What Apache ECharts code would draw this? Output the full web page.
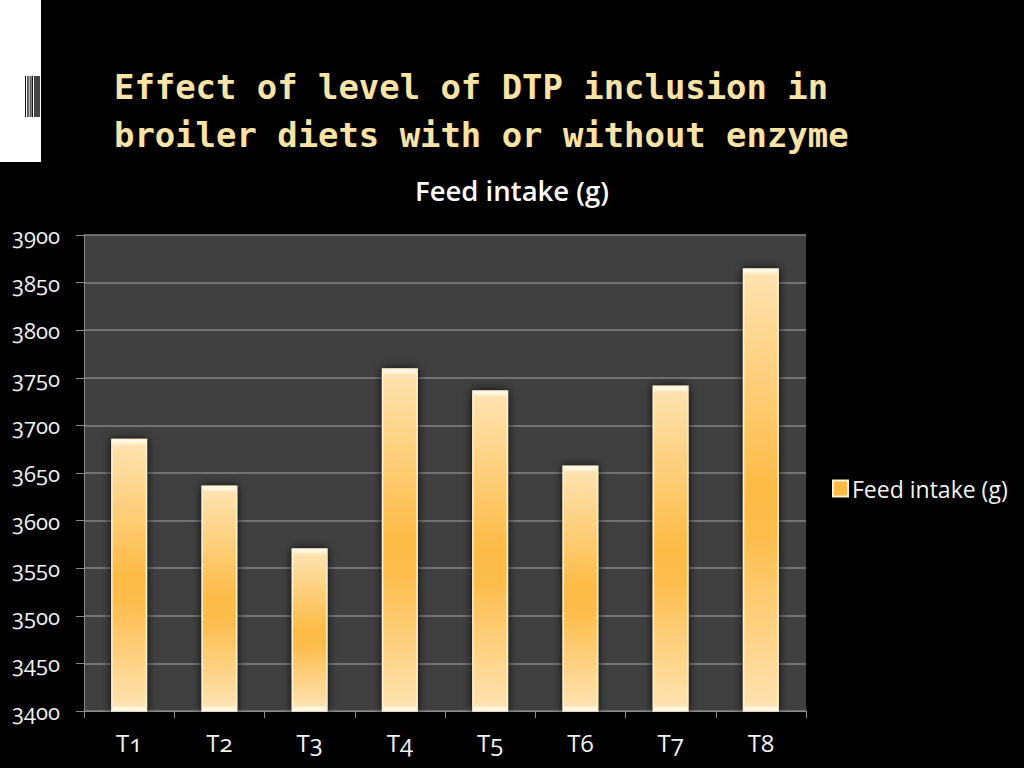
<!DOCTYPE html>
<html><head><meta charset="utf-8">
<style>html,body{margin:0;background:#000}#c{width:1024px;height:768px;font-feature-settings:"onum" 1;font-variant-numeric:oldstyle-nums}
#c text{font-feature-settings:"onum" 1;font-variant-numeric:oldstyle-nums}</style>
<script src="https://cdn.jsdelivr.net/npm/echarts@6/dist/echarts.min.js"></script>
</head><body><div id="c"></div>
<script>
const titleLines = ['Effect of level of DTP inclusion in','broiler diets with or without enzyme'];
const chartTitle = 'Feed intake (g)';
const categories = ['T1','T2','T3','T4','T5','T6','T7','T8'];
const feedIntake = [3686,3637,3571,3760,3737,3658,3742,3865];
const chart = echarts.init(document.getElementById('c'),null,{renderer:'svg'});
const uiFont = 'Open Sans';
const barFill = v => {
 const h = (v-3400)*476/500, a = 3/h, b = 6/h;
 return new echarts.graphic.LinearGradient(0,0,0,1,[
  {offset:0,color:'#fffdf8'},{offset:a,color:'#fff6e2'},{offset:b,color:'#fee2ae'},{offset:0.5,color:'#fdbb45'},
  {offset:0.6,color:'#fdbd4c'},{offset:1-b,color:'#fee2ae'},{offset:1-a,color:'#fff6e2'},{offset:1,color:'#fffdf8'}]);
};
const barcode = [[25,1,'#111'],[27.3,1.3,'#111'],[29.7,1,'#111'],[31.5,1.5,'#111'],[34,6,'#444']];
chart.setOption({
 animation:false,backgroundColor:'#000',
 title:{text:chartTitle,left:507,top:171,textAlign:'center',textStyle:{color:'#fff',fontFamily:uiFont,fontWeight:600,fontSize:27.5}},
 legend:{show:true,left:827,top:472,itemWidth:15,itemHeight:16,itemGap:0,icon:'rect',
  textStyle:{color:'#f2f2f2',fontFamily:uiFont,fontSize:23,padding:[0,0,0,-1]}},
 grid:{left:84,right:218,top:235,bottom:57,backgroundColor:'#404040',show:true,borderWidth:0},
 xAxis:{type:'category',data:categories,
  axisLine:{show:true,lineStyle:{color:'#8a8a8a',width:1}},axisTick:{show:true,inside:false,alignWithLabel:false,length:7,lineStyle:{color:'#8a8a8a',width:1}},
  axisLabel:{color:'#f2f2f2',fontFamily:uiFont,fontSize:24,margin:19}},
 yAxis:{type:'value',min:3400,max:3900,interval:50,
  axisLine:{show:true,onZero:false,lineStyle:{color:'#8a8a8a',width:1}},axisTick:{show:true,inside:false,length:8,lineStyle:{color:'#8a8a8a',width:1}},
  splitLine:{lineStyle:{color:'#858585',width:1.5}},
  axisLabel:{color:'#f2f2f2',fontFamily:uiFont,fontSize:22,margin:24,padding:[0,0,2,0],formatter:v=>String(v)}},
 series:[{name:chartTitle,type:'bar',barWidth:36,
  data:feedIntake.map(v=>({value:v,itemStyle:{color:barFill(v)}})),
  itemStyle:{color:'#fdbb45',borderColor:'#fff2cf',borderWidth:1.5,shadowColor:'rgba(0,0,0,0.85)',shadowBlur:10}}],
 graphic:[
  {type:'rect',shape:{x:0,y:0,width:41,height:162},style:{fill:'#fff'}},
  ...barcode.map(b=>({type:'rect',shape:{x:b[0],y:76,width:b[1],height:41},style:{fill:b[2]}})),
  ...titleLines.map((t,i)=>({type:'text',style:{x:114,y:87+i*48,text:t,fill:'#fbe3a6',font:'bold 33.9px "DejaVu Sans Mono"',textVerticalAlign:'middle'}}))
 ]
});
</script></body></html>
